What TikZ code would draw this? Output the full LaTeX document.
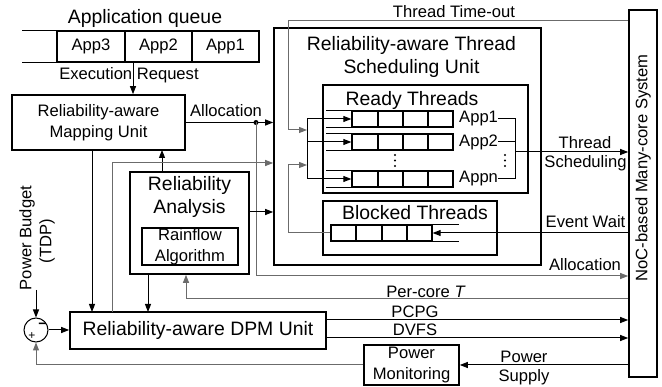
\documentclass[tikz,border=0pt]{standalone}
\usepackage{fontspec}
\setmainfont{Liberation Sans}
\usetikzlibrary{arrows.meta,calc}
\definecolor{lg}{gray}{0.42}
\begin{document}
\begin{tikzpicture}[x=1pt,y=-1pt,
  box/.style={draw,line width=1.6pt,inner sep=0pt},
  big/.style={font=\fontsize{19.4}{23}\selectfont},
  med/.style={font=\fontsize{16.6}{20.5}\selectfont},
  lbl/.style={inner sep=0pt,align=center},
  ln/.style={line width=1pt},
  arr/.style={line width=1pt,-{Triangle[length=8pt,width=6pt]}},
  garr/.style={arr,draw=lg},
  gln/.style={ln,draw=lg},
  qline/.style={line width=1.3pt},
  dotc/.style={circle,fill,inner sep=0pt,minimum size=2.4pt}
]
\useasboundingbox (0,0) rectangle (662,387);

% Application queue
\node[big,lbl] (aqt) at (145,18) {Application queue};
\node[draw,line width=1.4pt,minimum width=68,minimum height=31,med,inner sep=0pt] (a3) at (91,46.5) {App3};
\node[draw,line width=1.4pt,minimum width=67,minimum height=31,med,inner sep=0pt] (a2) at (158.5,46.5) {App2};
\node[draw,line width=1.4pt,minimum width=67,minimum height=31,med,inner sep=0pt] (a1) at (225.5,46.5) {App1};
\draw[line width=1.4pt] (a3.north west) -- ++(-34,0);
\draw[line width=1.4pt] (a3.south west) -- ++(-34,0);

% Boxes
\node[box,med,align=center,minimum width=173,minimum height=55] (mapu) at (98.5,122.5) {Reliability-aware\\Mapping Unit};
\node[box,minimum width=267,minimum height=237] (tsu) at (407.5,146.5) {};
\node[big,lbl] (tsut) at (411.5,56.5) {Reliability-aware Thread\\Scheduling Unit};
\node[box,minimum width=205,minimum height=108] (ready) at (425.5,139) {};
\node[big,lbl] (readyt) at (412,100) {Ready Threads};
\node[box,minimum width=174,minimum height=54] (blocked) at (410,228) {};
\node[big,lbl] (blockedt) at (415,213) {Blocked Threads};
\node[box,minimum width=119,minimum height=102] (ra) at (189.5,223) {};
\node[big,lbl] (rat) at (189.5,196.5) {Reliability\\Analysis};
\node[box,med,align=center,minimum width=96,minimum height=37,font=\fontsize{16.6}{21}\selectfont] (rain) at (190,246.5) {Rainflow\\Algorithm};
\node[box,big,minimum width=256,minimum height=37] (dpm) at (198,330.5) {Reliability-aware DPM Unit};
\node[box,med,align=center,minimum width=95,minimum height=40] (pm) at (411.5,365) {Power\\Monitoring};
\node[box,minimum width=28,minimum height=367] (noc) at (643,193.5) {};
\node[med,lbl,rotate=90] (noct) at (643,168) {NoC-based Many-core System};
\node[circle,draw,line width=1pt,minimum size=24pt,inner sep=0pt] (sum) at (36,330) {};
\node[font=\fontsize{14}{14}\selectfont\bfseries,inner sep=0pt] (minus) at (42.5,326) {−};
\node[font=\fontsize{12}{12}\selectfont,inner sep=0pt] (plus) at (32,336.5) {+};

% Ready queues
\foreach \n/\yy in {q1/119,q2/142,qn/179}{
  \node[draw,qline,minimum width=101,minimum height=16,inner sep=0pt] (\n) at (402.5,\yy) {};
  \draw[qline] (\n.north west) -- ++(-25,0);
  \draw[qline] (\n.south west) -- ++(-25,0);
  \foreach \xx in {378,403,428}{\draw[qline] (\xx,\yy-8) -- (\xx,\yy+8);}
}
\node[med,anchor=west,inner sep=0pt] (l1) at (459,119) {App1};
\node[med,anchor=west,inner sep=0pt] (l2) at (459,142) {App2};
\node[med,anchor=west,inner sep=0pt] (ln) at (459,179) {Appn};
\foreach \yy in {155,160.5,166}{
  \node[dotc] at (395,\yy) {};
  \node[dotc] at (505,\yy) {};
}
\coordinate (bt) at (515,119);
\coordinate (bb) at (515,179);
\coordinate (bm) at (515,152);
\draw[ln] (l1.east) -- (bt) -- (bb) -- (ln.east);
\draw[ln] (l2.east) -- (l2.east -| bt);
\draw[arr] (bm) -- (bm -| noc.west);
\node[med,lbl] (tsl1) at (585,143) {Thread};
\node[med,lbl] (tsl2) at (585.5,163) {Scheduling};

% Blocked queue
\node[draw,qline,minimum width=101,minimum height=16,inner sep=0pt] (bq) at (381.5,233) {};
\foreach \xx in {356,382,407}{\draw[qline] (\xx,225) -- (\xx,241);}
\draw[qline] (bq.north east) -- ++(26,0);
\draw[qline] (bq.south east) -- ++(26,0);
\coordinate (ew) at (629,233);
\draw[arr] (ew) -- (bq.east);
\node[med,lbl] (ewl) at (585.5,222) {Event Wait};

% Distribution into ready queues
\coordinate (d1) at (307,119);
\coordinate (dn) at (307,179);
\draw[ln] (d1) -- (dn);
\draw[arr] (d1) -- (q1.west);
\draw[arr] (307,142) -- (q2.west);
\draw[arr] (dn) -- (qn.west);

% Thread time-out
\coordinate (to1) at (288,21);
\coordinate (to2) at (288,130);
\draw[garr] (noc.west |- to1) -- (to1) -- (to2) -- (307,130);
\node[med,lbl] (tol) at (454,12) {Thread Time-out};

% Blocked return
\coordinate (br1) at (288,233);
\coordinate (br2) at (288,165);
\draw[garr] (bq.west) -- (br1) -- (br2) -- (307,165);

% Execution request
\coordinate (er) at (133,62);
\draw[arr] (er) -- (er |- mapu.north);
\node[med,lbl] (erl) at (129,75.5) {Execution Request};

% Allocation
\coordinate (adot) at (256,122.5);
\draw[arr] (mapu.east) -- (mapu.east -| tsu.west);
\node[dotc,minimum size=5pt] at (adot) {};
\node[med,lbl] (al1) at (226,111) {Allocation};
\coordinate (ab) at (256,276);
\draw[garr] (adot) -- (ab) -- (ab -| noc.west);
\node[med,lbl] (al2) at (585,265) {Allocation};

% RA connections
\draw[arr] (ra.east |- 0,212) -- (tsu.west |- 0,212);
\draw[arr] (162,172) -- (162,150);
\draw[arr] (92,150) -- (92,312);
\draw[arr] (148,274) -- (148,312);
\coordinate (g1) at (112,312);
\coordinate (g2) at (112,163);
\draw[garr] (g1) -- (g2) -- (g2 -| tsu.west);

% Per-core T
\coordinate (pc) at (186,299);
\draw[garr] (noc.west |- pc) -- (pc) -- (pc |- ra.south);
\node[med,lbl] (pcl) at (426,292) {Per-core \textit{T}};

% PCPG / DVFS
\draw[arr] (dpm.east |- 0,320) -- (noc.west |- 0,320);
\draw[arr] (dpm.east |- 0,338) -- (noc.west |- 0,338);
\node[med,lbl] (pcpg) at (415,312) {PCPG};
\node[med,lbl] (dvfs) at (415,330) {DVFS};

% Power supply and feedback
\draw[arr] (noc.west |- pm.east) -- (pm.east);
\node[med,lbl] (ps1) at (524,357) {Power};
\node[med,lbl] (ps2) at (524,377) {Supply};
\coordinate (fb) at (36,365);
\draw[garr] (pm.west) -- (fb) -- (sum.south);

% Power budget
\coordinate (pb) at (36,290);
\draw[arr] (pb) -- (sum.north);
\node[med,lbl,rotate=90] (pbl1) at (27,238) {Power Budget};
\node[med,lbl,rotate=90] (pbl2) at (47,241) {(TDP)};
\draw[arr] (sum.east) -- (dpm.west |- sum.east);
\end{tikzpicture}
\end{document}
